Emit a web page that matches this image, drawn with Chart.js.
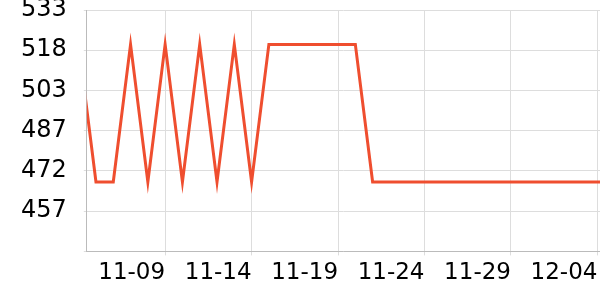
<!DOCTYPE html>
<html>
<head>
<meta charset="utf-8">
<script src="https://cdn.jsdelivr.net/npm/chart.js@4"></script>
<style>
  html, body { margin: 0; padding: 0; background: #fff; }
  canvas { display: block; }
</style>
</head>
<body>
<canvas id="priceChart" width="600" height="300"></canvas>
<script>
const dates = [
  '11-04', '11-05', '11-06', '11-07', '11-08', '11-09', '11-10', '11-11',
  '11-12', '11-13', '11-14', '11-15', '11-16', '11-17', '11-18', '11-19',
  '11-20', '11-21', '11-22', '11-23', '11-24', '11-25', '11-26', '11-27',
  '11-28', '11-29', '11-30', '12-01', '12-02', '12-03', '12-04', '12-05'
]
const values = [
  520, 468, 468, 520, 468, 520, 468, 520,
  468, 520, 468, 520, 520, 520, 520, 520,
  520, 468, 468, 468, 468, 468, 468, 468,
  468, 468, 468, 468, 468, 468, 468, 468
]
const tickDates = ['11-09', '11-14', '11-19', '11-24', '11-29', '12-04']
const yMin = 441.8
const yMax = 533

// dates -> day numbers so the x axis can be linear
const DAY = 86400000
function toDay(s) {
  const [m, d] = s.split('-').map(Number)
  return Date.UTC(2023, m - 1, d) / DAY
}
function fromDay(v) {
  const dt = new Date(Math.round(v) * DAY)
  const mm = String(dt.getUTCMonth() + 1).padStart(2, '0')
  const dd = String(dt.getUTCDate()).padStart(2, '0')
  return mm + '-' + dd
}

const xMin = toDay('11-04') + 0.47
const xMax = toDay('12-04') + 0.15

Chart.defaults.font.family = "'DejaVu Sans', sans-serif"
Chart.defaults.color = '#000'

const context = document.getElementById('priceChart')
new Chart(context, {
  type: 'line',
  data: {
    datasets: [{
      data: dates.map((s, i) => ({ x: toDay(s), y: values[i] })),
      borderColor: '#ef4e2f',
      borderWidth: 3,
      pointRadius: 0,
      tension: 0,
      fill: false
    }]
  },
  options: {
    responsive: false,
    animation: false,
    layout: {
      padding: { left: 4, top: 0, right: 0, bottom: 10 }
    },
    plugins: {
      legend: { display: false },
      tooltip: { enabled: false }
    },
    scales: {
      x: {
        type: 'linear',
        min: xMin,
        max: xMax,
        afterBuildTicks: (scale) => {
          scale.ticks = tickDates.map(s => ({ value: toDay(s) }))
        },
        // labels hang left of their tick, no extra side room needed
        afterFit: (scale) => {
          scale.paddingLeft = 0
          scale.paddingRight = 0
        },
        grid: { color: '#dddddd', tickLength: 4 },
        border: { color: '#bbbbbb' },
        ticks: {
          align: 'end',
          maxRotation: 0,
          autoSkip: false,
          padding: 3.5,
          font: { size: 23 },
          callback: (v) => fromDay(v)
        }
      },
      y: {
        min: yMin,
        max: yMax,
        afterFit: (scale) => {
          scale.paddingTop = 10
          scale.paddingBottom = 0
        },
        grid: { color: '#dddddd', tickLength: 3 },
        border: { color: '#bbbbbb' },
        ticks: {
          count: 7,
          padding: 17,
          font: { size: 24 },
          callback: (v, i) => i === 0 ? '' : Math.round(v)
        }
      }
    }
  }
})
</script>
</body>
</html>
